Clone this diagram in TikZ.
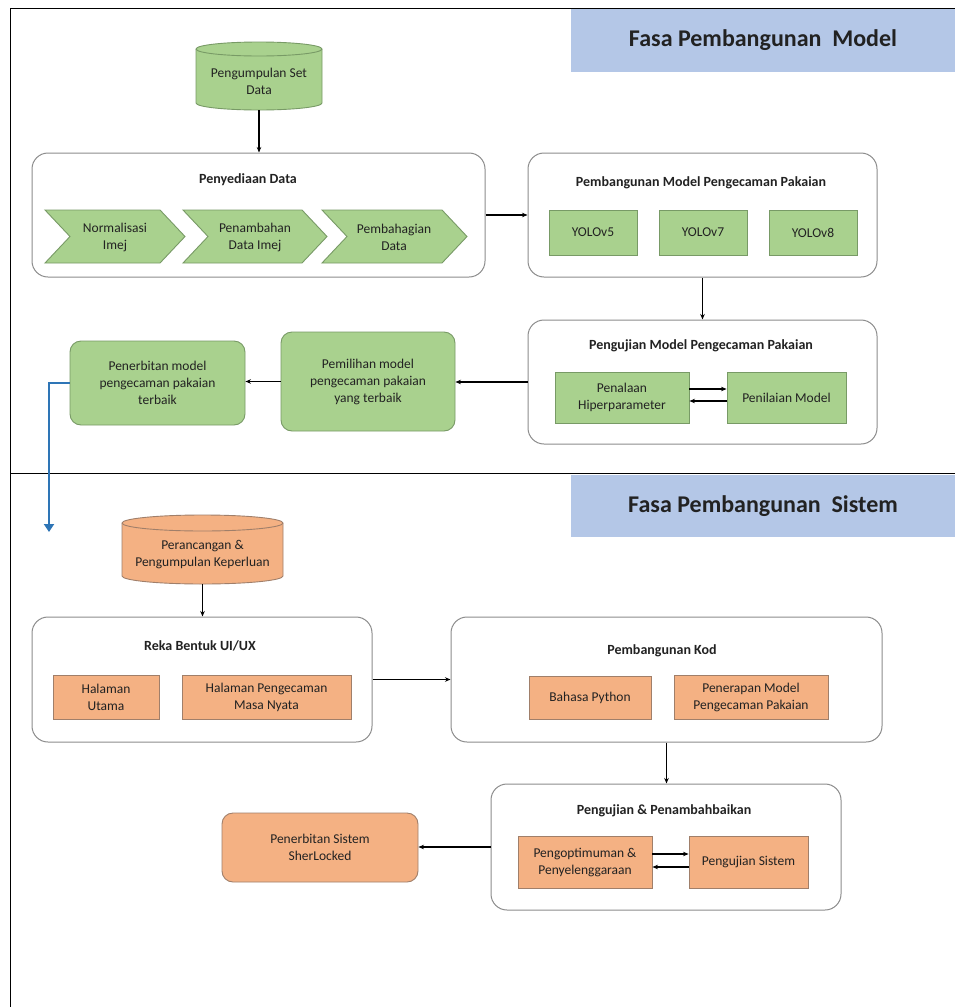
\documentclass[tikz,border=0pt]{standalone}
\usepackage{fontspec}
\setmainfont{Carlito}
\usetikzlibrary{arrows.meta,calc}
\definecolor{gfill}{HTML}{A9D18E}
\definecolor{gdraw}{HTML}{789A66}
\definecolor{ofill}{HTML}{F4B183}
\definecolor{odraw}{HTML}{A07F6A}
\definecolor{bann}{HTML}{B4C7E7}
\definecolor{contdraw}{HTML}{8C8C8C}
\definecolor{arrblue}{HTML}{2E75B6}
\definecolor{txt}{HTML}{222222}
\begin{document}
\begin{tikzpicture}[x=1pt,y=-1pt,
  every node/.style={font=\fontsize{13.5}{17}\selectfont, text=txt, align=center},
  cont/.style={draw=contdraw, line width=1pt, rounded corners=16pt, fill=white, inner sep=0pt},
  gbox/.style={draw=gdraw, fill=gfill, line width=0.9pt, inner sep=0pt},
  obox/.style={draw=odraw, fill=ofill, line width=0.9pt, inner sep=0pt},
  rnd/.style={rounded corners=11pt},
  ttl/.style={font=\bfseries\fontsize{14}{17}\selectfont},
  arr/.style={-{Stealth[length=5.5pt,width=4.5pt]}, line width=1.1pt, black},
  banner/.style={fill=bann, inner sep=0pt, font=\bfseries\fontsize{24}{28}\selectfont},
  chev/.style={draw=gdraw, fill=gfill, line width=0.9pt},
  cyl/.style={line width=0.9pt},
]
\useasboundingbox (0,0) rectangle (955,1007);
\fill[white] (0,0) rectangle (955,1007);

% banners
\node[banner, minimum width=384pt, minimum height=63pt] (ban1) at (763,40.5) {Fasa Pembangunan\ \ Model};
\node[banner, minimum width=384pt, minimum height=62pt] (ban2) at (763,506) {Fasa Pembangunan\ \ Sistem};

% frame
\draw[line width=1pt, black] (955,8) -- (10,8) -- (10,1007);
\draw[line width=1pt, black] (10,473) -- (955,473);

% ---------------- Fasa Pembangunan Model ----------------
% cylinder 1
\path[cyl, draw=gdraw, fill=gfill] (196,49) -- (196,103) arc[start angle=180, end angle=0, x radius=63, y radius=7]
  -- (322,49) arc[start angle=0, end angle=-180, x radius=63, y radius=7] -- cycle;
\draw[cyl, draw=gdraw] (196,49) arc[start angle=180, end angle=0, x radius=63, y radius=7];
\node[minimum height=58pt, minimum width=120pt, inner sep=0pt] (cyl1) at (259,81) {Pengumpulan Set\\Data};

% Penyediaan Data
\node[cont, minimum width=453pt, minimum height=124pt] (prep) at (258.5,215) {};
\node[ttl] (prept) at (248,180) {Penyediaan Data};
\draw[chev] (45,210) -- (160,210) -- (185,236.5) -- (160,263) -- (45,263) -- (70,236.5) -- cycle;
\draw[chev] (183,210) -- (302,210) -- (327,236.5) -- (302,263) -- (183,263) -- (208,236.5) -- cycle;
\draw[chev] (322,210) -- (442,210) -- (467,236.5) -- (442,263) -- (322,263) -- (347,236.5) -- cycle;
\node (c1) at (115,237) {Normalisasi\\Imej};
\node (c2) at (255,237) {Penambahan\\Data Imej};
\node (c3) at (394,237) {Pembahagian\\Data};

% Pembangunan Model
\node[cont, minimum width=349pt, minimum height=124pt] (build) at (702.5,215) {};
\node[ttl] (buildt) at (701,183) {Pembangunan Model Pengecaman Pakaian};
\node[gbox, minimum width=88pt, minimum height=45pt] (y5) at (593,232.5) {YOLOv5};
\node[gbox, minimum width=88pt, minimum height=45pt] (y7) at (703,232.5) {YOLOv7};
\node[gbox, minimum width=88pt, minimum height=45pt] (y8) at (813,232.5) {YOLOv8};

% Pengujian Model
\node[cont, minimum width=349pt, minimum height=124pt] (test) at (702.5,382) {};
\node[ttl] (testt) at (701,346) {Pengujian Model Pengecaman Pakaian};
\node[gbox, minimum width=134pt, minimum height=51pt] (pena) at (622,397.5) {Penalaan\\Hiperparameter};
\node[gbox, minimum width=119pt, minimum height=51pt] (peni) at (786.5,397.5) {Penilaian Model};

% Pemilihan / Penerbitan
\node[gbox, rnd, minimum width=174pt, minimum height=99pt] (pilih) at (368,381.5) {Pemilihan model\\pengecaman pakaian\\yang terbaik};
\node[gbox, rnd, minimum width=175pt, minimum height=84pt] (terbit) at (157.5,383) {Penerbitan model\\pengecaman pakaian\\terbaik};

% connectors (model)
\draw[arr] (cyl1.south) -- (cyl1.south |- prep.north);
\draw[arr] (prep.east) -- (build.west);
\draw[arr] (build.south) -- (test.north);
\draw[arr] ([yshift=8.5pt]pena.east) -- ([yshift=8.5pt]peni.west);
\draw[arr] ([yshift=-3.5pt]peni.west) -- ([yshift=-3.5pt]pena.east);
\draw[arr] (test.west) -- (test.west -| pilih.east);
\draw[arr] (pilih.west) -- (pilih.west -| terbit.east);
\coordinate (blueend) at (49,532);
\draw[line width=2pt, arrblue, -{Triangle[length=8pt,width=10pt]}] (terbit.west) -| (blueend);

% ---------------- Fasa Pembangunan Sistem ----------------
% cylinder 2
\path[cyl, draw=odraw, fill=ofill] (122,523) -- (122,576) arc[start angle=180, end angle=0, x radius=80.5, y radius=8]
  -- (283,523) arc[start angle=0, end angle=-180, x radius=80.5, y radius=8] -- cycle;
\draw[cyl, draw=odraw] (122,523) arc[start angle=180, end angle=0, x radius=80.5, y radius=8];
\node[minimum height=58pt, minimum width=150pt, inner sep=0pt] (cyl2) at (202.5,555) {Perancangan \&\\Pengumpulan Keperluan};

% Reka Bentuk
\node[cont, minimum width=340pt, minimum height=125pt] (reka) at (202,679.5) {};
\node[ttl] (rekat) at (200,646) {Reka Bentuk UI/UX};
\node[obox, minimum width=106pt, minimum height=44pt] (hu) at (106,697) {Halaman\\Utama};
\node[obox, minimum width=169pt, minimum height=44pt] (hp) at (266.5,697) {Halaman Pengecaman\\Masa Nyata};

% Pembangunan Kod
\node[cont, minimum width=431pt, minimum height=125pt] (kod) at (666.5,679.5) {};
\node[ttl] (kodt) at (662,651) {Pembangunan Kod};
\node[obox, minimum width=122pt, minimum height=43pt] (py) at (590,697.5) {Bahasa Python};
\node[obox, minimum width=154pt, minimum height=44pt] (pm) at (751,697) {Penerapan Model\\Pengecaman Pakaian};

% Pengujian & Penambahbaikan
\node[cont, minimum width=350pt, minimum height=126pt] (uji) at (666,847) {};
\node[ttl] (ujit) at (664,811) {Pengujian \& Penambahbaikan};
\node[obox, minimum width=134pt, minimum height=52pt] (opt) at (585,862) {Pengoptimuman \&\\Penyelenggaraan};
\node[obox, minimum width=119pt, minimum height=52pt] (us) at (748.5,862) {Pengujian Sistem};

% Penerbitan Sistem
\node[obox, rnd, minimum width=196pt, minimum height=69pt] (sher) at (320,847.5) {Penerbitan Sistem\\SherLocked};

% connectors (sistem)
\draw[arr] (cyl2.south) -- (cyl2.south |- reka.north);
\draw[arr] (reka.east) -- (kod.west);
\draw[arr] (kod.south) -- (kod.south |- uji.north);
\draw[arr] ([yshift=8pt]opt.east) -- ([yshift=8pt]us.west);
\draw[arr] ([yshift=-5pt]us.west) -- ([yshift=-5pt]opt.east);
\draw[arr] (uji.west) -- (uji.west -| sher.east);
\end{tikzpicture}
\end{document}
